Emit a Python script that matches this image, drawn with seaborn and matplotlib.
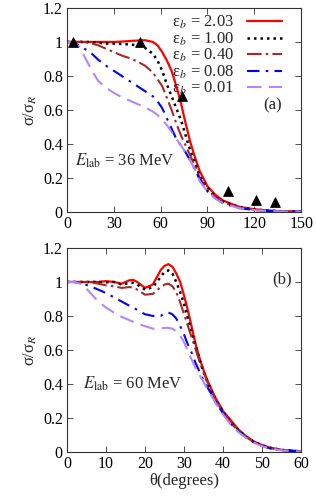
import numpy as np
import pandas as pd
import matplotlib
matplotlib.use("Agg")
import matplotlib.pyplot as plt
import seaborn as sns
from matplotlib.ticker import FuncFormatter, MultipleLocator

# ---- data ----
eps_labels = ["2.03", "1.00", "0.40", "0.08", "0.01"]

theta_a = [0, 4, 8, 12, 16, 20, 25, 30, 35, 40, 45, 50, 55, 58, 61, 64, 67, 70, 73, 76,
           79, 82, 85, 90, 95, 100, 110, 120, 130, 140, 150]
red_a = [1.0, 1.0, 1.0, 1.0, 1.0, 1.0, 1.0, 1.0, 1.002, 1.005, 1.008, 1.01, 1.0, 0.98, 0.94,
         0.89, 0.83, 0.74, 0.64, 0.52, 0.41, 0.32, 0.24, 0.15, 0.10, 0.066, 0.03, 0.015,
         0.007, 0.003, 0.001]
black_a = [1.0, 1.0, 1.0, 1.0, 0.998, 0.995, 0.99, 0.99, 0.988, 0.985, 0.98, 0.965, 0.93,
           0.89, 0.83, 0.75, 0.68, 0.61, 0.54, 0.45, 0.36, 0.29, 0.21, 0.14, 0.09, 0.06,
           0.028, 0.013, 0.006, 0.002, 0.001]
brown_a = [1.0, 1.0, 1.0, 0.998, 0.99, 0.98, 0.96, 0.94, 0.92, 0.905, 0.885, 0.86, 0.82,
           0.78, 0.74, 0.67, 0.60, 0.52, 0.45, 0.39, 0.33, 0.27, 0.20, 0.13, 0.085, 0.055,
           0.025, 0.012, 0.005, 0.002, 0.001]
blue_a = [1.0, 0.995, 0.98, 0.955, 0.93, 0.895, 0.86, 0.83, 0.80, 0.77, 0.74, 0.71, 0.68,
          0.65, 0.61, 0.55, 0.49, 0.43, 0.39, 0.35, 0.30, 0.25, 0.19, 0.12, 0.08, 0.05,
          0.022, 0.01, 0.004, 0.002, 0.001]
purple_a = [1.0, 0.998, 0.97, 0.90, 0.83, 0.77, 0.73, 0.70, 0.675, 0.655, 0.635, 0.615, 0.59,
            0.57, 0.54, 0.51, 0.47, 0.43, 0.39, 0.35, 0.30, 0.25, 0.18, 0.12, 0.078, 0.05,
            0.022, 0.01, 0.004, 0.002, 0.001]

exp_theta = [4, 47, 73.5, 103, 121, 133]
exp_ratio = [1.0, 1.0, 0.68, 0.125, 0.07, 0.055]

theta_b = [0, 2, 4, 6, 8, 10, 12, 14, 16, 17, 18, 20, 22, 24, 25, 26, 27, 28, 29, 30, 31,
           32, 33, 34, 35, 36, 38, 40, 42, 44, 46, 48, 50, 52, 55, 60]
red_b = [1.0, 1.0, 1.0, 1.0, 1.0, 1.005, 1.0, 0.99, 1.01, 1.012, 1.0, 0.965, 0.985, 1.07,
         1.095, 1.105, 1.09, 1.05, 1.0, 0.92, 0.83, 0.73, 0.63, 0.55, 0.48, 0.42, 0.32,
         0.24, 0.185, 0.13, 0.09, 0.06, 0.04, 0.025, 0.012, 0.003]
black_b = [1.0, 1.0, 1.0, 1.0, 1.0, 0.998, 1.0, 0.985, 0.995, 0.995, 0.985, 0.955, 0.97,
           1.03, 1.06, 1.068, 1.05, 1.0, 0.94, 0.87, 0.78, 0.70, 0.62, 0.54, 0.47, 0.41,
           0.31, 0.235, 0.175, 0.125, 0.087, 0.058, 0.038, 0.024, 0.011, 0.003]
brown_b = [1.0, 1.0, 1.0, 0.998, 0.99, 0.98, 0.975, 0.965, 0.97, 0.968, 0.955, 0.925, 0.93,
           0.97, 0.985, 0.99, 0.975, 0.94, 0.88, 0.81, 0.74, 0.67, 0.60, 0.53, 0.47, 0.41,
           0.31, 0.23, 0.17, 0.12, 0.085, 0.056, 0.036, 0.022, 0.01, 0.002]
blue_b = [1.0, 1.0, 0.99, 0.975, 0.955, 0.935, 0.91, 0.885, 0.86, 0.85, 0.835, 0.81, 0.80,
          0.80, 0.815, 0.82, 0.81, 0.785, 0.74, 0.69, 0.63, 0.58, 0.52, 0.47, 0.42, 0.38,
          0.30, 0.225, 0.165, 0.12, 0.082, 0.054, 0.035, 0.021, 0.01, 0.002]
purple_b = [1.0, 1.0, 0.985, 0.935, 0.885, 0.85, 0.82, 0.795, 0.775, 0.765, 0.755, 0.74,
            0.725, 0.725, 0.73, 0.73, 0.725, 0.71, 0.685, 0.645, 0.59, 0.54, 0.49, 0.45,
            0.41, 0.37, 0.29, 0.22, 0.16, 0.115, 0.08, 0.052, 0.033, 0.02, 0.009, 0.002]

colors = ["#ff0000", "#000000", "#a52a2a", "#0000ff", "#b388f5"]
dashes = [(None, None), (1, 1.6), (7, 2, 1.2, 2), (6, 3, 1.2, 3), (7, 3.5)]
widths = [1.6, 1.8, 1.5, 1.5, 1.5]

sns.set_theme(style="ticks")
plt.rcParams["font.family"] = ["Liberation Serif", "DejaVu Serif"]
plt.rcParams["mathtext.fontset"] = "stix"

fig = plt.figure(figsize=(3.16, 4.96), dpi=100)
ax1 = fig.add_axes([0.212, 0.573, 0.741, 0.411])
ax2 = fig.add_axes([0.212, 0.089, 0.741, 0.411])


def draw_panel(ax, theta, curves):
    for i, y in enumerate(curves):
        df = pd.DataFrame({"theta": theta, "ratio": y})
        sns.lineplot(data=df, x="theta", y="ratio", ax=ax, color=colors[i],
                     lw=widths[i], sort=False, estimator=None,
                     label="ε$_b$ = " + eps_labels[i])
        line = ax.lines[-1]
        if dashes[i][0] is not None:
            line.set_dashes(dashes[i])


draw_panel(ax1, theta_a, [red_a, black_a, brown_a, blue_a, purple_a])
sns.scatterplot(x=exp_theta, y=exp_ratio, ax=ax1, marker="^", color="black", s=50,
                edgecolor="black", zorder=5)
draw_panel(ax2, theta_b, [red_b, black_b, brown_b, blue_b, purple_b])

fmt = FuncFormatter(lambda v, p: "%g" % round(v, 2))
for ax, xmax, step in [(ax1, 150, 30), (ax2, 60, 10)]:
    ax.set_xlim(0, xmax)
    ax.set_ylim(0, 1.2)
    ax.xaxis.set_major_locator(MultipleLocator(step))
    ax.yaxis.set_major_locator(MultipleLocator(0.2))
    ax.yaxis.set_major_formatter(fmt)
    ax.tick_params(direction="in", top=True, right=True, labelsize=11.5, length=4,
                   width=0.6, colors="#333333", labelcolor="black", pad=3)
    for s in ax.spines.values():
        s.set_linewidth(0.8)
        s.set_color("#333333")
        s.set_visible(True)
    ax.set_ylabel("σ/σ$_R$", fontsize=12, labelpad=3)
    ax.set_xlabel("")

ax2.set_xlabel("θ(degrees)", fontsize=12, labelpad=1)

leg = ax1.legend(loc="upper right", bbox_to_anchor=(0.945, 1.0), markerfirst=False,
                 frameon=False, fontsize=12, labelspacing=-0.05, handlelength=2.1,
                 handletextpad=0.8, borderaxespad=0.05, borderpad=0.3)
if ax2.get_legend():
    ax2.get_legend().remove()

ax1.text(126, 0.60, "(a)", fontsize=12)
ax1.text(5, 0.27, r"$E_{\rm lab}$ = 36 MeV", fontsize=12)
ax2.text(52.5, 0.99, "(b)", fontsize=12)
ax2.text(4, 0.37, r"$E_{\rm lab}$ = 60 MeV", fontsize=12)

fig.savefig("out.png", dpi=100)
